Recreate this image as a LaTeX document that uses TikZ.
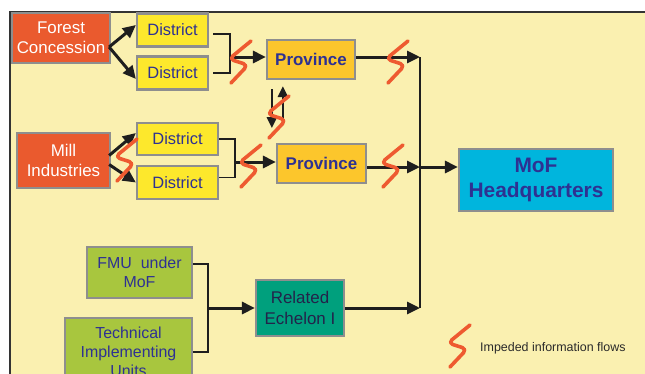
\documentclass[tikz,border=0pt]{standalone}
\usepackage{fontspec}
\setmainfont{Liberation Sans}
\usetikzlibrary{arrows.meta,calc}
\definecolor{panel}{HTML}{FAF0B0}
\definecolor{boxgray}{HTML}{8E8E8E}
\definecolor{redor}{HTML}{EA5A2E}
\definecolor{distyel}{HTML}{FDE82C}
\definecolor{provyel}{HTML}{FCC62C}
\definecolor{mofblue}{HTML}{00B5DD}
\definecolor{fmugreen}{HTML}{A8C63E}
\definecolor{ecteal}{HTML}{00A07D}
\definecolor{navy}{HTML}{2E3192}
\definecolor{reltext}{HTML}{23234A}
\definecolor{squigc}{HTML}{EE5A30}
\definecolor{arrowc}{HTML}{1E1E1E}
\definecolor{legtext}{HTML}{2A2A2A}
\begin{document}
\begin{tikzpicture}[x=1bp,y=-1bp,
  box/.style={draw=boxgray, line width=2.2bp, inner sep=0pt, align=center},
  forest/.style={box, fill=redor, text=white, font=\fontsize{17}{20}\selectfont},
  dist/.style={box, fill=distyel, text=navy, font=\fontsize{16.5}{20}\selectfont},
  prov/.style={box, fill=provyel, text=navy, font=\fontsize{17}{20}\selectfont\bfseries},
  mof/.style={box, fill=mofblue, text=navy, font=\fontsize{21}{25}\selectfont\bfseries},
  fmu/.style={box, fill=fmugreen, text=navy, font=\fontsize{16}{19}\selectfont},
  rel/.style={box, fill=ecteal, text=reltext, font=\fontsize{17}{20.5}\selectfont},
  arr/.style={draw=arrowc, line width=3bp, -{Triangle[length=13bp,width=12bp]}},
  arrsm/.style={draw=arrowc, line width=2.5bp, -{Triangle[length=11bp,width=10bp]}},
  brk/.style={draw=arrowc, line width=1.6bp},
  vline/.style={draw=arrowc, line width=2.2bp},
  squig/.style={draw=squigc, line width=3.6bp, line cap=round, line join=round, rounded corners=5bp},
  imp/.pic={\draw[squig] (11,-21) -- (-11,-3) -- (8,3) -- (-9,21);}
]
\useasboundingbox (0,0) rectangle (645,373);
\clip (0,0) rectangle (645,373);
% panel
\fill[panel] (10,12) rectangle (660,390);
\draw[draw=black!80, line width=1.5bp] (10,390) -- (10,12) -- (660,12);

% boxes
\node[forest, minimum width=98bp, minimum height=50bp] (fc) at (61,38) {Forest\\Concession};
\node[forest, minimum width=93bp, minimum height=55bp] (mi) at (63.5,160.5) {Mill\\Industries};
\node[dist, minimum width=71bp, minimum height=33bp] (d1) at (172.5,30) {District};
\node[dist, minimum width=71bp, minimum height=33bp] (d2) at (172.5,73) {District};
\node[dist, minimum width=81bp, minimum height=32bp] (d3) at (177.5,139) {District};
\node[dist, minimum width=81bp, minimum height=33bp] (d4) at (177.5,182.5) {District};
\node[prov, minimum width=88bp, minimum height=39bp] (p1) at (311,59.5) {Province};
\node[prov, minimum width=89bp, minimum height=39bp] (p2) at (321.5,163.5) {Province};
\node[mof, minimum width=154bp, minimum height=62bp] (hq) at (536,180) {MoF\\Headquarters};
\node[fmu, minimum width=105bp, minimum height=51bp] (fmu) at (139.5,272.5) {FMU\ \ under\\MoF};
\node[fmu, minimum width=127bp, minimum height=68bp] (tiu) at (128.5,352) {Technical\\Implementing\\Units};
\node[rel, minimum width=88bp, minimum height=56bp] (rel) at (300,308) {Related\\Echelon I};

% source arrows
\draw[arr] ([shift={(-2,9)}]fc.east) -- ([shift={(0,-5)}]d1.west);
\draw[arr] ([shift={(-2,9)}]fc.east) -- ([shift={(0,6)}]d2.west);
\draw[arr] ([shift={(-2,-5)}]mi.east) -- ([shift={(0,-6)}]d3.west);
\draw[arr] ([shift={(-2,4)}]mi.east) -- (d4.west);

% brackets
\coordinate (b1) at (230,57);
\draw[brk] ([shift={(4,4)}]d1.east) -| (b1) |- ([shift={(4,0)}]d2.east);
\draw[arr] (b1) -- (b1 -| p1.west);
\coordinate (b2) at (235,162);
\draw[brk] (d3.east) -| (b2) |- ([shift={(0,-5)}]d4.east);
\draw[arr] (b2) -- (b2 -| p2.west);
\coordinate (b3) at (208,308);
\draw[brk] ([shift={(0,-8.5)}]fmu.east) -| (b3) |- (tiu.east);
\draw[arr] (b3) -- (rel.west);

% main trunk
\coordinate (j1) at (420,57);
\coordinate (j2) at (420,167);
\coordinate (j3) at (420,308);
\draw[vline] (j1) -- (j3);
\draw[arr] (j1 -| p1.east) -- (j1);
\draw[arr] (j2 -| p2.east) -- (j2);
\draw[arr] (rel.east) -- (j3);
\draw[arr] (j2) -- (j2 -| hq.west);

% province exchange
\draw[arrsm] ($(p1.south west)+(6,9)$) -- ($(p1.south west)+(6,48)$);
\draw[arrsm] ($(p1.south west)+(17,43)$) -- ($(p1.south west)+(17,6)$);

% impeded flows
\pic at (240,62) {imp};
\pic at (278,117) {imp};
\pic at (126,160) {imp};
\pic at (250,166) {imp};
\pic at (397,62) {imp};
\pic at (392,166) {imp};
\pic at (459,346) {imp};
\node[anchor=west, inner sep=0pt, text=legtext, font=\fontsize{12.5}{15}\selectfont] (leg) at (480,348) {Impeded information flows};
\end{tikzpicture}
\end{document}
